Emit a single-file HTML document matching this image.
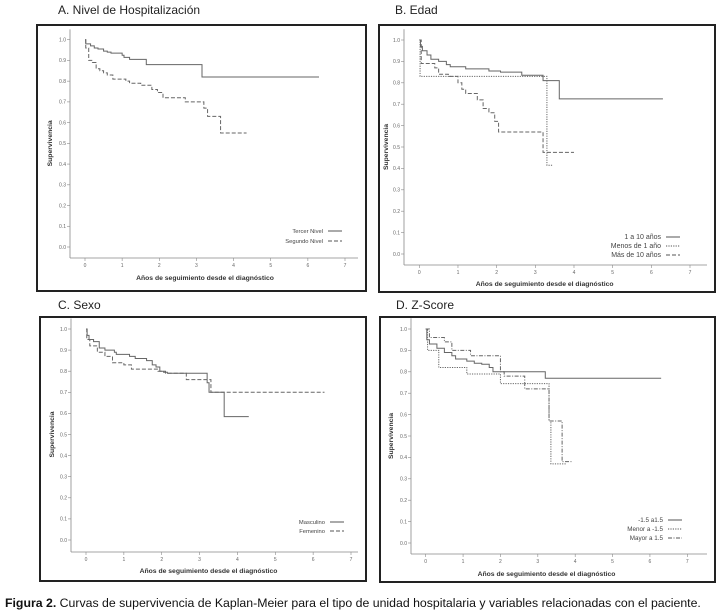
<!DOCTYPE html>
<html><head><meta charset="utf-8">
<style>
html,body{margin:0;padding:0;background:#fff;}
body{width:717px;height:614px;overflow:hidden;}
svg{display:block;font-family:"Liberation Sans",Arial,sans-serif;}
</style></head>
<body>
<svg id="fig" width="717" height="614" viewBox="0 0 717 614"></svg>
<script>
// ---- Panel A data ----
const aTercerX = [0,0.02,0.15,0.25,0.35,0.5,0.6,0.7,1.0,1.05,1.2,1.65,3.15,6.3];
const aTercerY = [1.0,0.98,0.97,0.96,0.955,0.945,0.94,0.935,0.925,0.915,0.905,0.88,0.82,0.82];
const aSegundoX = [0,0.02,0.1,0.2,0.3,0.4,0.5,0.6,0.75,1.1,1.2,1.5,1.8,1.95,2.1,2.7,3.2,3.3,3.65,4.35];
const aSegundoY = [1.0,0.96,0.9,0.89,0.86,0.85,0.84,0.83,0.81,0.80,0.79,0.78,0.76,0.745,0.72,0.70,0.67,0.63,0.55,0.55];
// ---- Panel B data ----
const b1a10X = [0,0.03,0.08,0.2,0.3,0.5,0.7,0.8,1.2,1.8,2.1,2.65,3.2,3.62,6.3];
const b1a10Y = [1,0.97,0.95,0.93,0.91,0.90,0.885,0.875,0.865,0.855,0.85,0.835,0.81,0.725,0.725];
const bMenos1X = [0,0.02,3.3,3.45];
const bMenos1Y = [1,0.83,0.415,0.415];
const bMas10X = [0,0.05,0.4,0.5,0.75,1.0,1.1,1.2,1.5,1.65,1.8,1.95,2.05,3.2,4.0];
const bMas10Y = [1,0.89,0.87,0.84,0.83,0.80,0.77,0.75,0.72,0.68,0.66,0.62,0.57,0.475,0.475];
// ---- Panel C data ----
const cMascX = [0,0.03,0.08,0.2,0.35,0.5,0.75,0.8,1.15,1.3,1.6,1.75,1.85,1.95,2.05,2.15,3.2,3.25,3.65,4.3];
const cMascY = [1,0.97,0.95,0.94,0.91,0.90,0.89,0.88,0.87,0.86,0.85,0.83,0.82,0.80,0.795,0.79,0.745,0.70,0.585,0.585];
const cFemX = [0,0.02,0.1,0.3,0.5,0.7,1.0,1.2,1.9,2.1,2.65,3.3,6.3];
const cFemY = [1,0.95,0.92,0.89,0.87,0.84,0.83,0.81,0.80,0.79,0.76,0.70,0.70];
// ---- Panel D data ----
const dMidX = [0,0.03,0.1,0.3,0.5,0.7,0.8,1.1,1.3,1.5,1.7,1.8,3.2,6.3];
const dMidY = [1,0.95,0.93,0.91,0.89,0.875,0.86,0.85,0.84,0.835,0.82,0.80,0.77,0.77];
const dMenorX = [0,0.05,0.35,1.1,2.0,3.3,3.35,3.75];
const dMenorY = [1,0.90,0.82,0.79,0.745,0.57,0.37,0.37];
const dMayorX = [0,0.1,0.5,0.7,1.2,2.0,2.1,2.65,3.3,3.65,3.9];
const dMayorY = [1,0.96,0.94,0.90,0.875,0.80,0.78,0.72,0.57,0.38,0.38];
// ---- axis ticks ----
const xTicks = [0,1,2,3,4,5,6,7];
const yTicks = [0.0,0.1,0.2,0.3,0.4,0.5,0.6,0.7,0.8,0.9,1.0];

const NS = "http://www.w3.org/2000/svg";
const svg = document.getElementById('fig');
function mk(tag, attrs, parent){
  const e = document.createElementNS(NS, tag);
  for (const k in attrs) e.setAttribute(k, attrs[k]);
  (parent||svg).appendChild(e);
  return e;
}
function txt(s, attrs, parent){ const t = mk('text', attrs, parent); t.textContent = s; return t; }

const dashes = {solid:'', dash:'4,2', dot:'1.2,1.2', dashdot:'4,1.5,1,1.5'};

function panel(cfg){
  const g = mk('g', {});
  
  
  const sx = v => cfg.x0 + v*(cfg.x7 - cfg.x0)/7;
  const sy = v => cfg.y0 - v*(cfg.y0 - cfg.y1);
  const t = txt(cfg.title, {x:cfg.tx, y:cfg.ty, 'font-size':12, fill:'#222'}, g);
  
  
  const box = mk('rect', {x:cfg.bx, y:cfg.by, width:cfg.bw, height:cfg.bh, fill:'none', stroke:'#222', 'stroke-width':2}, g);
  
  
  const ya = mk('line', {x1:cfg.ax, y1:sy(1.05), x2:cfg.ax, y2:cfg.base, stroke:'#888', 'stroke-width':0.8}, g);
  
  
  const xa = mk('line', {x1:cfg.ax, y1:cfg.base, x2:cfg.bx+cfg.bw-8, y2:cfg.base, stroke:'#888', 'stroke-width':0.8}, g);
  
  
  yTicks.forEach(v => {
    mk('line', {x1:cfg.ax-3, y1:sy(v), x2:cfg.ax, y2:sy(v), stroke:'#888', 'stroke-width':0.6}, g);
    const l = txt(v.toFixed(1), {x:cfg.ax-4, y:sy(v)+1.8, 'font-size':5, fill:'#666', 'text-anchor':'end'}, g);
    
    
  });
  xTicks.forEach(v => {
    mk('line', {x1:sx(v), y1:cfg.base, x2:sx(v), y2:cfg.base+3, stroke:'#888', 'stroke-width':0.6}, g);
    const l = txt(String(v), {x:sx(v), y:cfg.base+9, 'font-size':5, fill:'#666', 'text-anchor':'middle'}, g);
    
    
  });
  const xt = txt('Años de seguimiento desde el diagnóstico', {x:(cfg.x0+cfg.x7)/2 - 10, y:cfg.xly, 'font-size':6.8, 'font-weight':'bold', fill:'#333', 'text-anchor':'middle'}, g);
  
  
  const ymid = (sy(0)+sy(1))/2;
  const yt = txt('Supervivencia', {x:cfg.ylx, y:ymid, 'font-size':6.8, 'font-weight':'bold', fill:'#333', 'text-anchor':'middle', transform:'rotate(-90 '+cfg.ylx+' '+ymid+')'}, g);
  
  
  cfg.series.forEach((s, i) => {
    let d = 'M' + sx(s.x[0]) + ',' + sy(s.y[0]);
    for (let k = 1; k < s.x.length; k++) {
      d += ' H' + sx(s.x[k]) + ' V' + sy(s.y[k]);
    }
    const p = mk('path', {d:d, fill:'none', stroke:'#666', 'stroke-width':1, 'stroke-dasharray':dashes[s.style]}, g);
    
    
    const ly = cfg.ly + i*cfg.lstep;
    const lt = txt(s.label, {x:cfg.lx, y:ly+2, 'font-size':cfg.lfs, fill:'#444', 'text-anchor':'end'}, g);
    
    
    const ll = mk('line', {x1:cfg.lx+5, y1:ly, x2:cfg.lx+19, y2:ly, stroke:'#555', 'stroke-width':1, 'stroke-dasharray':dashes[s.style]}, g);
    
    
  });
}

panel({name:'panel-a-hospitalizacion', title:'A. Nivel de Hospitalización', tx:58, ty:14,
  bx:37, by:25, bw:329, bh:266, ax:70, base:258, x0:85, x7:345, y0:247, y1:39.7, xly:280, ylx:52,
  lx:323, ly:231, lstep:10, lfs:5.8,
  series:[{key:'tercer-nivel', label:'Tercer Nivel', x:aTercerX, y:aTercerY, style:'solid'},
          {key:'segundo-nivel', label:'Segundo Nivel', x:aSegundoX, y:aSegundoY, style:'dash'}]});
panel({name:'panel-b-edad', title:'B. Edad', tx:395, ty:14,
  bx:379, by:25, bw:336, bh:267, ax:404, base:265, x0:419.3, x7:690, y0:254, y1:40, xly:286, ylx:388,
  lx:661, ly:237, lstep:9, lfs:7,
  series:[{key:'1-a-10-anos', label:'1 a 10 años', x:b1a10X, y:b1a10Y, style:'solid'},
          {key:'menos-de-1-ano', label:'Menos de 1 año', x:bMenos1X, y:bMenos1Y, style:'dot'},
          {key:'mas-de-10-anos', label:'Más de 10 años', x:bMas10X, y:bMas10Y, style:'dash'}]});
panel({name:'panel-c-sexo', title:'C. Sexo', tx:58, ty:309,
  bx:40, by:317, bw:326, bh:264, ax:71, base:552, x0:86, x7:351, y0:540, y1:329, xly:573, ylx:54,
  lx:325, ly:522, lstep:9, lfs:5.8,
  series:[{key:'masculino', label:'Masculino', x:cMascX, y:cMascY, style:'solid'},
          {key:'femenino', label:'Femenino', x:cFemX, y:cFemY, style:'dash'}]});
panel({name:'panel-d-zscore', title:'D. Z-Score', tx:396, ty:309,
  bx:380, by:317, bw:335, bh:265, ax:411, base:554, x0:425.7, x7:687.3, y0:543, y1:329, xly:576, ylx:393,
  lx:663, ly:520, lstep:9, lfs:6.3,
  series:[{key:'entre-menos-1-5-y-1-5', label:'-1.5 a1.5', x:dMidX, y:dMidY, style:'solid'},
          {key:'menor-a-menos-1-5', label:'Menor a -1.5', x:dMenorX, y:dMenorY, style:'dot'},
          {key:'mayor-a-1-5', label:'Mayor a 1.5', x:dMayorX, y:dMayorY, style:'dashdot'}]});

const cap = txt('', {x:5, y:607, 'font-size':12.3, fill:'#111'});


const b = document.createElementNS(NS, 'tspan');
b.setAttribute('font-weight', 'bold');
b.textContent = 'Figura 2.';
cap.appendChild(b);
const r = document.createElementNS(NS, 'tspan');
r.textContent = ' Curvas de supervivencia de Kaplan-Meier para el tipo de unidad hospitalaria y variables relacionadas con el paciente.';
cap.appendChild(r);
</script>
</body></html>
